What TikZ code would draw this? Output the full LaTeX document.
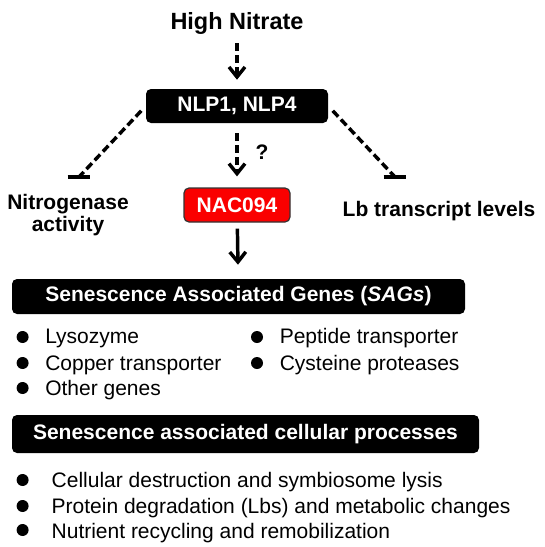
\documentclass[tikz,border=0pt]{standalone}
\usepackage{fontspec}
\setmainfont{Liberation Sans}
\usetikzlibrary{arrows.meta}

\definecolor{nacred}{RGB}{250,0,0}

\tikzset{
  blackbox/.style={shape=rectangle,rounded corners=3.75pt,fill=black,text=white,font=\fontsize{15.75}{18}\selectfont\bfseries,inner sep=0pt},
  redbox/.style={shape=rectangle,rounded corners=3.75pt,fill=nacred,draw=black!80,line width=0.9pt,text=white,font=\fontsize{15.75}{18}\selectfont\bfseries,inner sep=0pt},
  lbl/.style={font=\fontsize{15.75}{16.5}\selectfont\bfseries,inner sep=0pt,align=center},
  itemtext/.style={anchor=base west,font=\fontsize{15.75}{18}\selectfont,inner sep=0pt},
  dot/.style={shape=circle,fill=black,inner sep=0pt,minimum size=9pt},
  dasharrow/.style={line width=2.6pt,dash pattern=on 6pt off 3pt,-{Straight Barb[length=7.5pt,width=12pt]}},
  solidarrow/.style={line width=2.6pt,-{Straight Barb[length=7.5pt,width=12pt]}},
  inhibit/.style={line width=2.6pt,dash pattern=on 6pt off 3pt},
  inhibitbar/.style={line width=2.6pt}
}

\begin{document}
\begin{tikzpicture}[x=0.75pt,y=-0.75pt]
        \useasboundingbox (0,0) rectangle (545,547);

        % signalling part
        \node[lbl,font=\fontsize{17.6}{20}\selectfont\bfseries] (hn) at (237,23) {High Nitrate};
        \node[blackbox,minimum width=136.5pt,minimum height=25.5pt] (nlp) at (237,106) {NLP1, NLP4};
        \node[redbox,minimum width=79.5pt,minimum height=25.5pt] (nac) at (237,205) {NAC094};
        \node[lbl] (q) at (262,152) {?};
        \node[lbl] (nit) at (68,215.5) {Nitrogenase\\activity};
        \node[lbl,anchor=base] (lb) at (439,216) {Lb transcript levels};
        \coordinate (nitbar) at (79,177);
        \coordinate (lbbar) at (395,177);

        % SAGs
        \node[blackbox,minimum width=339.75pt,minimum height=26.25pt] (sags) at (238.5,296.5) {Senescence Associated Genes (\textit{SAGs})};
        \node[dot] (d1) at (22.6,337) {};
        \node[dot] (d2) at (22.6,363) {};
        \node[dot] (d3) at (22.6,388) {};
        \node[dot] (d4) at (257,337) {};
        \node[dot] (d5) at (257,363) {};
        \node[itemtext] (g1) at (45,343) {Lysozyme};
        \node[itemtext] (g2) at (45,370) {Copper transporter};
        \node[itemtext] (g3) at (45,395) {Other genes};
        \node[itemtext] (g4) at (279.5,343) {Peptide transporter};
        \node[itemtext] (g5) at (279.5,370) {Cysteine proteases};

        % processes
        \node[blackbox,minimum width=350.25pt,minimum height=28.5pt] (proc) at (245.5,434) {Senescence associated cellular processes};
        \node[dot] (d6) at (22.6,480) {};
        \node[dot] (d7) at (22.6,506) {};
        \node[dot] (d8) at (22.6,530) {};
        \node[itemtext] (p1) at (51.4,487) {Cellular destruction and symbiosome lysis};
        \node[itemtext] (p2) at (51.4,513) {Protein degradation (Lbs) and metabolic changes};
        \node[itemtext] (p3) at (51.4,538) {Nutrient recycling and remobilization};

	\path[dasharrow] (hn) edge[shorten <=6.75pt,shorten >=6.75pt] (nlp);
	\path[dasharrow] (nlp) edge[shorten <=7.5pt,shorten >=8.25pt] (nac);
	\path[solidarrow] (nac) edge[shorten <=4.5pt,shorten >=10.5pt] (sags);
	\path[inhibit] (nlp.west) edge[shorten <=4.9pt] (nitbar);
	\path[inhibit] (nlp.east) edge[shorten <=4.9pt] (lbbar);
	\draw[inhibitbar] ([xshift=-8.5pt]nitbar) -- ([xshift=8.5pt]nitbar);
	\draw[inhibitbar] ([xshift=-8.5pt]lbbar) -- ([xshift=8.5pt]lbbar);
\end{tikzpicture}
\end{document}
